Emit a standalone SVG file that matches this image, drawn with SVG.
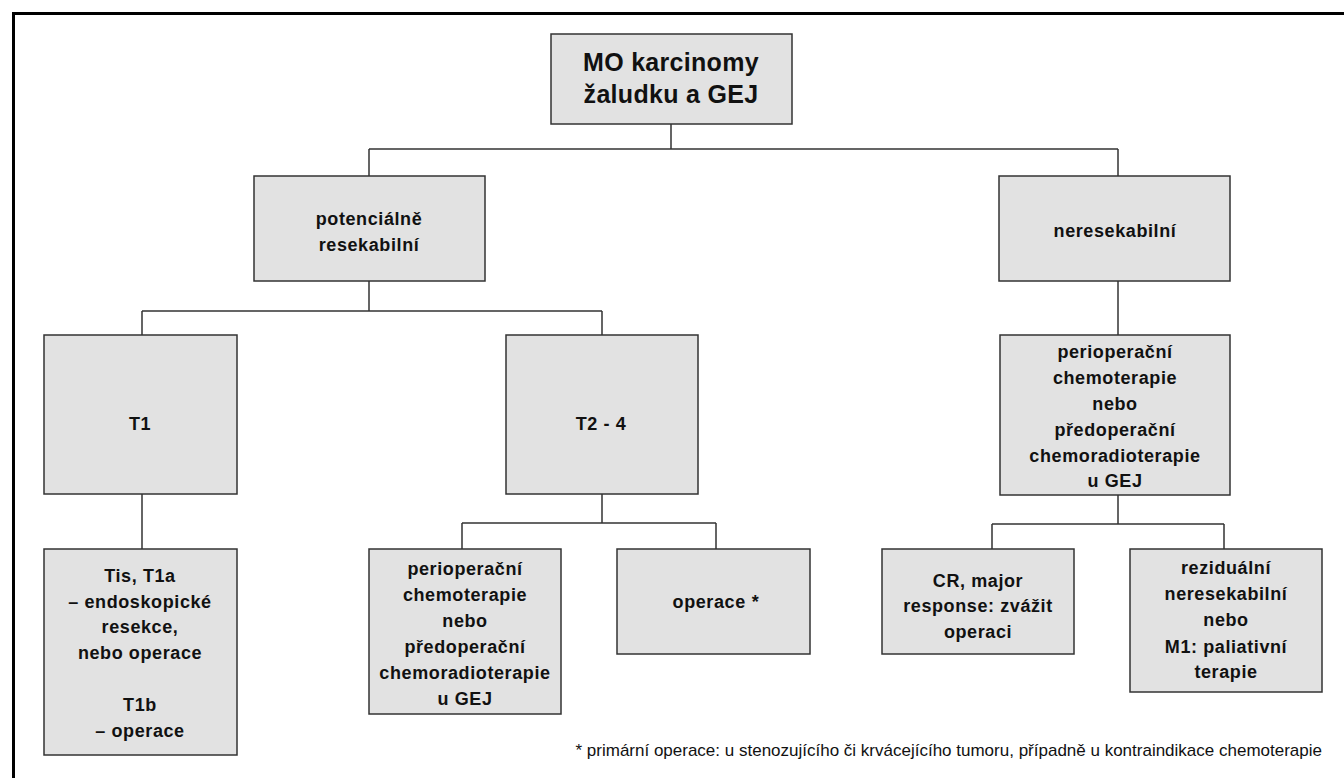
<svg xmlns="http://www.w3.org/2000/svg" width="1344" height="778" viewBox="0 0 1344 778">
<style>
.box{fill:#e2e2e2;stroke:#333;stroke-width:1.5}
.t{font-family:"Liberation Sans",Arial,sans-serif;font-weight:bold;font-size:18px;fill:#111;text-anchor:middle;letter-spacing:0.6px}
.big{font-size:25px;letter-spacing:0.3px}
.conn{fill:none;stroke:#333;stroke-width:1.5}
.note{font-family:"Liberation Sans",Arial,sans-serif;font-size:17px;fill:#111;text-anchor:end}
</style>
<rect x="13.5" y="13.5" width="1400" height="900" fill="#fff" stroke="#000" stroke-width="3"/>
<g id="connectors">
<path class="conn" d="M671 124V149M369 149H1118M369 149V176M1118 149V176"/>
<path class="conn" d="M369 281V311M142 311H602M142 311V335M602 311V335"/>
<path class="conn" d="M142 494V549"/>
<path class="conn" d="M602 494V523M462 523H716M462 523V549M716 523V549"/>
<path class="conn" d="M1118 281V335"/>
<path class="conn" d="M1118 495V524M992 524H1224M992 524V549M1224 524V549"/>
</g>
<g id="root">
<rect class="box" x="551" y="34" width="241" height="90"/>
<text class="t big" x="671" y="71">MO karcinomy</text>
<text class="t big" x="671" y="103">žaludku a GEJ</text>
</g>
<g id="potencialne">
<rect class="box" x="254" y="176" width="231" height="105"/>
<text class="t" x="369" y="225">potenciálně</text>
<text class="t" x="369" y="251">resekabilní</text>
</g>
<g id="neresekabilni">
<rect class="box" x="999" y="176" width="231" height="105"/>
<text class="t" x="1115" y="237">neresekabilní</text>
</g>
<g id="t1">
<rect class="box" x="44" y="335" width="193" height="159"/>
<text class="t" x="140" y="430">T1</text>
</g>
<g id="t24">
<rect class="box" x="506" y="335" width="192" height="159"/>
<text class="t" x="601" y="430">T2 - 4</text>
</g>
<g id="periop-right">
<rect class="box" x="1000" y="335" width="230" height="160"/>
<text class="t" x="1115" y="358">perioperační</text>
<text class="t" x="1115" y="384">chemoterapie</text>
<text class="t" x="1115" y="410">nebo</text>
<text class="t" x="1115" y="436">předoperační</text>
<text class="t" x="1115" y="462">chemoradioterapie</text>
<text class="t" x="1115" y="487">u GEJ</text>
</g>
<g id="tis">
<rect class="box" x="44" y="549" width="193" height="206"/>
<text class="t" x="140" y="582">Tis, T1a</text>
<text class="t" x="140" y="608">– endoskopické</text>
<text class="t" x="140" y="633">resekce,</text>
<text class="t" x="140" y="659">nebo operace</text>
<text class="t" x="140" y="711">T1b</text>
<text class="t" x="140" y="737">– operace</text>
</g>
<g id="periop-left">
<rect class="box" x="369" y="549" width="192" height="165"/>
<text class="t" x="465" y="575">perioperační</text>
<text class="t" x="465" y="601">chemoterapie</text>
<text class="t" x="465" y="627">nebo</text>
<text class="t" x="465" y="653">předoperační</text>
<text class="t" x="465" y="679">chemoradioterapie</text>
<text class="t" x="465" y="705">u GEJ</text>
</g>
<g id="operace">
<rect class="box" x="617" y="549" width="193" height="105"/>
<text class="t" x="716" y="608">operace<tspan dx="6">*</tspan></text>
</g>
<g id="cr">
<rect class="box" x="882" y="549" width="192" height="105"/>
<text class="t" x="978" y="587">CR, major</text>
<text class="t" x="978" y="612">response: zvážit</text>
<text class="t" x="978" y="638">operaci</text>
</g>
<g id="rezidualni">
<rect class="box" x="1130" y="549" width="192" height="143"/>
<text class="t" x="1226" y="574">reziduální</text>
<text class="t" x="1226" y="600">neresekabilní</text>
<text class="t" x="1226" y="626">nebo</text>
<text class="t" x="1226" y="653">M1: paliativní</text>
<text class="t" x="1226" y="678">terapie</text>
</g>
<text class="note" x="1322" y="756">*  primární operace: u stenozujícího či krvácejícího tumoru, případně u kontraindikace chemoterapie</text>
</svg>
